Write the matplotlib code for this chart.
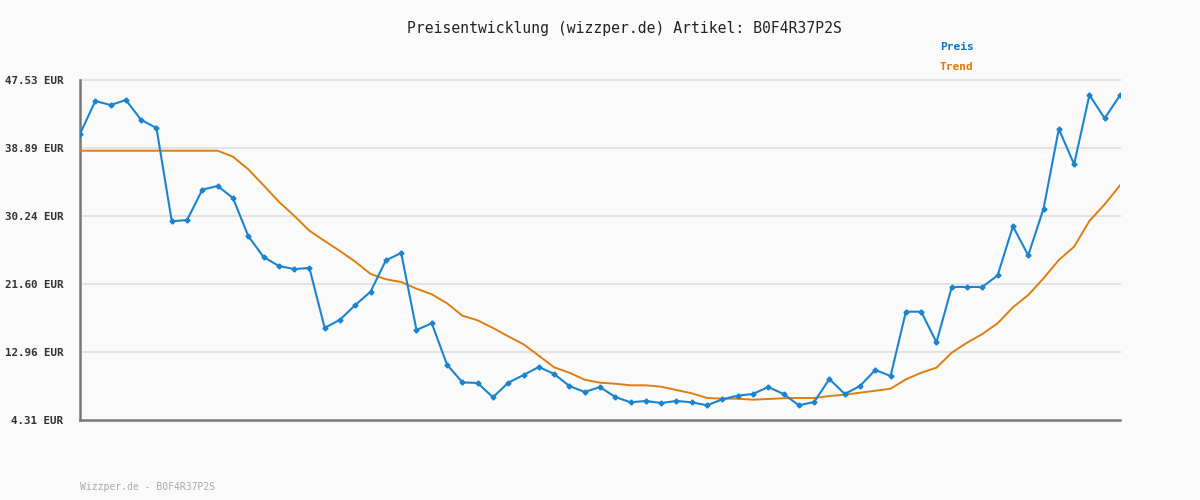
import numpy as np
import matplotlib
matplotlib.use('Agg')
import matplotlib.pyplot as plt

# ── Data ───────────────────────────────────────────────────────────────────
preis = [
    40.67, 44.86, 44.35, 44.99, 42.45, 41.43, 29.57, 29.73, 33.59, 34.06,
    32.53, 27.70, 25.03, 23.89, 23.50, 23.63, 16.01, 17.06, 18.93, 20.62,
    24.61, 25.54, 15.75, 16.60, 11.34, 9.10, 9.01, 7.20, 9.05, 10.03,
    11.05, 10.16, 8.63, 7.87, 8.50, 7.23, 6.56, 6.73, 6.47, 6.73,
    6.56, 6.18, 6.94, 7.40, 7.62, 8.50, 7.62, 6.18, 6.60, 9.52,
    7.62, 8.63, 10.67, 9.90, 18.08, 18.08, 14.19, 21.22, 21.22, 21.22,
    22.70, 28.93, 25.25, 31.17, 41.30, 36.81, 45.62, 42.66, 45.59,
]
trend = [
    38.54, 38.54, 38.54, 38.54, 38.54, 38.54, 38.54, 38.54, 38.54, 38.54,
    37.78, 36.18, 34.14, 32.06, 30.28, 28.37, 27.06, 25.79, 24.43, 22.87,
    22.20, 21.85, 21.00, 20.29, 19.14, 17.57, 16.98, 16.01, 14.95, 13.93,
    12.48, 11.01, 10.32, 9.43, 9.05, 8.92, 8.72, 8.72, 8.54, 8.12,
    7.70, 7.11, 7.02, 7.02, 6.89, 6.98, 7.07, 7.11, 7.11, 7.36,
    7.53, 7.78, 8.03, 8.29, 9.48, 10.32, 10.96, 12.87, 14.14, 15.24,
    16.60, 18.64, 20.20, 22.32, 24.65, 26.34, 29.61, 31.73, 34.14,
]
y_ticks = [4.31, 12.96, 21.60, 30.24, 38.89, 47.53]
artikel = 'B0F4R37P2S'

# ── Colours ────────────────────────────────────────────────────────────────
bg = '#fafafa'
blue = '#1a84d0'
orange = '#e07d10'

fig = plt.figure(figsize=(12, 5), dpi=100, facecolor=bg)
ax = fig.add_axes([80/1200, 80/500, 1040/1200, 340/500], facecolor=bg)

x = np.arange(len(preis))
ax.plot(x, trend, color=orange, lw=1.4, zorder=3)
ax.plot(x, preis, color=blue, lw=1.5, marker='P', ms=3.2, zorder=4)

ax.set_xlim(0, len(preis) - 1)
ax.set_ylim(y_ticks[0], y_ticks[-1])
ax.set_yticks(y_ticks)
ax.set_yticklabels([f'{v:.2f} EUR' for v in y_ticks],
                   family='DejaVu Sans Mono', fontsize=7.8,
                   fontweight='bold', color='#333333')
ax.set_xticks([])
ax.tick_params(axis='y', length=0, pad=12)

for v in y_ticks[1:]:
    ax.axhline(v, color='#e3e3e3', lw=1.5, zorder=1, clip_on=False)

for s in ['top', 'right']:
    ax.spines[s].set_visible(False)
for s in ['left', 'bottom']:
    ax.spines[s].set_color('#777777')
    ax.spines[s].set_linewidth(1.8)

# ── Texts ──────────────────────────────────────────────────────────────────
fig.text(624/1200, 1 - 28/500, f'Preisentwicklung (wizzper.de) Artikel: {artikel}',
         ha='center', va='center', family='DejaVu Sans Mono', fontsize=10.6,
         color='#222222')
fig.text(940/1200, 1 - 47/500, 'Preis', ha='left', va='center',
         family='DejaVu Sans Mono', fontsize=8, fontweight='bold', color='#0a74c6')
fig.text(940/1200, 1 - 67/500, 'Trend', ha='left', va='center',
         family='DejaVu Sans Mono', fontsize=8, fontweight='bold', color='#e07800')
fig.text(80/1200, 1 - 487/500, f'Wizzper.de - {artikel}', ha='left', va='center',
         family='DejaVu Sans Mono', fontsize=7, color='#aaaaaa')

fig.savefig('out.png', dpi=100, facecolor=bg)
